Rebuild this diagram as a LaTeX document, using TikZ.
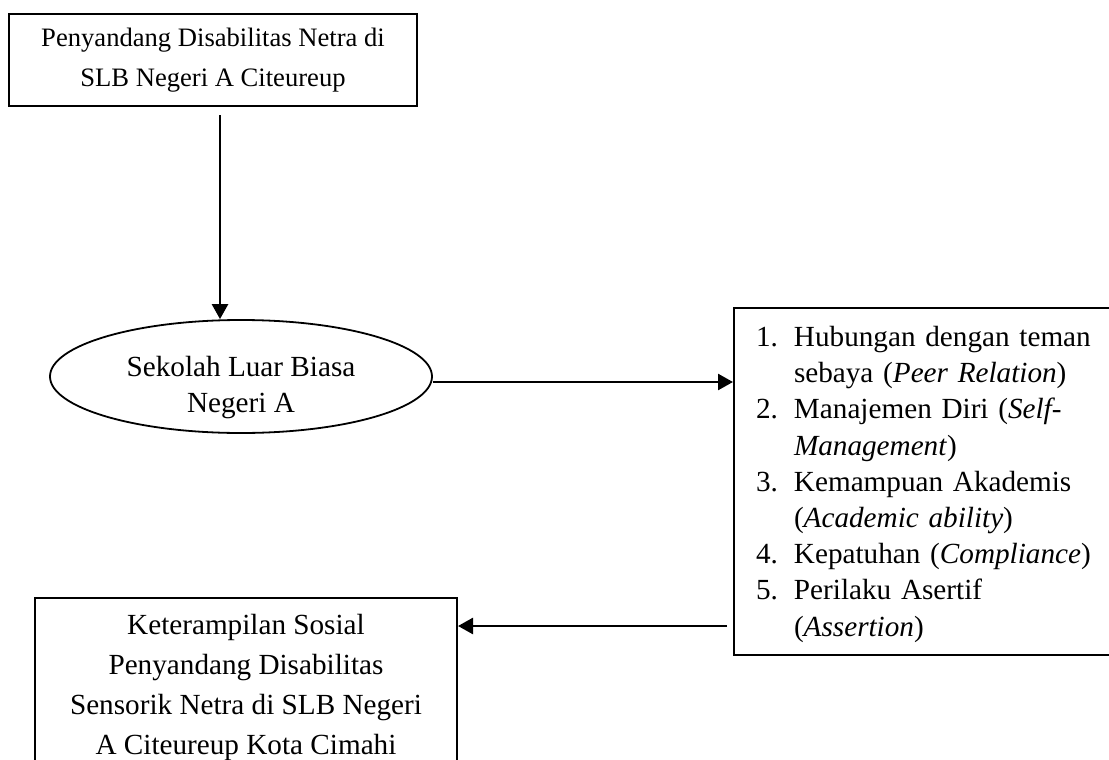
\documentclass[tikz,border=0pt]{standalone}
\usepackage{fontspec}
\setmainfont{Liberation Serif}
\usepackage{tikz}
\usetikzlibrary{positioning,arrows.meta,calc,shapes.geometric}
\tikzset{
  arr/.style={-{Triangle[length=7.5pt,width=8pt]}, line width=1.3pt, color=black},
  box/.style={rectangle, draw=black, line width=1pt, align=center, inner sep=0pt,
    font={\fontsize{14.6}{20}\selectfont}},
  oval/.style={ellipse, draw=black, line width=0.9pt, inner sep=0pt,
    font={\fontsize{14.6}{18}\selectfont}},
  listbox/.style={rectangle, draw=black, line width=1pt, align=left, inner xsep=11pt, inner ysep=0pt,
    font={\fontsize{14.6}{18.1}\selectfont}}
}
\newcommand{\nomor}[1]{\makebox[19pt][l]{#1}}
\newcommand{\lanjut}{\hspace*{19pt}}

\begin{document}
\begin{tikzpicture}[x=0.5pt, y=-0.5pt]
\useasboundingbox (0,0) rectangle (1109,760);
\node[box, minimum width=204pt, minimum height=46pt, font={\fontsize{13.3}{20}\selectfont}] (awal) at (213,60)
  {Penyandang Disabilitas Netra di\\ SLB Negeri A Citeureup};
\node[oval, minimum width=191pt, minimum height=56.5pt] (slb) at (241,376.5)
  {\raisebox{-9.15pt}[0pt][0pt]{\begin{tabular}{@{}c@{}}Sekolah Luar Biasa\\ Negeri A\end{tabular}}};
\node[listbox, anchor=north west, minimum width=200pt, minimum height=173.5pt, text width=178pt] (ciri) at (733,307) {%
\rule{0pt}{13pt}\nomor{1.}Hubungan dengan teman\\
\lanjut sebaya (\textit{Peer Relation})\\
\nomor{2.}Manajemen Diri (\textit{Self-}\\
\lanjut\textit{Management})\\
\nomor{3.}Kemampuan Akademis\\
\lanjut(\textit{Academic ability})\\
\nomor{4.}Kepatuhan (\textit{Compliance})\\
\nomor{5.}Perilaku Asertif\\
\lanjut(\textit{Assertion})};
\node[box, minimum width=211pt, minimum height=89pt] (tujuan) at (246,687)
  {Keterampilan Sosial\\ Penyandang Disabilitas\\ Sensorik Netra di SLB Negeri\\ A Citeureup Kota Cimahi};
% panah
\draw[arr, shorten <=4pt] ([xshift=3.5pt]awal.south) -- ([xshift=3.5pt]awal.south |- slb.north);
\coordinate (keluar) at ([yshift=-2.75pt]slb.east);
\draw[arr] (keluar) -- (keluar -| ciri.west);
\coordinate (masuk) at ([yshift=-14.5pt]tujuan.north east);
\draw[arr, shorten <=3pt] (masuk -| ciri.west) -- (masuk);
\end{tikzpicture}
\end{document}
